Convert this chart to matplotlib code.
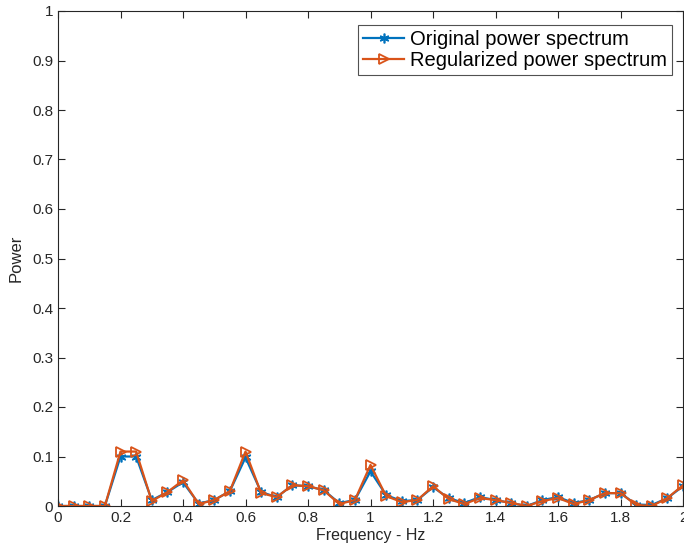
import matplotlib
matplotlib.use("Agg")
import matplotlib.pyplot as plt
import numpy as np

plt.rcParams['font.family'] = ['Liberation Sans', 'DejaVu Sans']

freq = np.arange(41) * 0.05

original = [0.0, 0.0, 0.0, 0.0, 0.100, 0.100, 0.012, 0.028, 0.048, 0.005,
            0.012, 0.030, 0.098, 0.028, 0.018, 0.042, 0.040, 0.032, 0.006, 0.012,
            0.070, 0.022, 0.010, 0.012, 0.038, 0.016, 0.006, 0.018, 0.012, 0.006,
            0.000, 0.012, 0.018, 0.006, 0.012, 0.026, 0.026, 0.003, 0.002, 0.016,
            0.040]
regularized = [0.0, 0.0, 0.0, 0.0, 0.110, 0.110, 0.010, 0.028, 0.052, 0.004,
               0.012, 0.030, 0.110, 0.026, 0.018, 0.042, 0.040, 0.032, 0.004, 0.012,
               0.083, 0.020, 0.008, 0.012, 0.040, 0.014, 0.004, 0.016, 0.012, 0.006,
               0.000, 0.010, 0.016, 0.004, 0.012, 0.026, 0.026, 0.002, 0.000, 0.016,
               0.042]

blue = '#0072BD'
orange = '#D95319'
axcol = '#262626'

fig = plt.figure(figsize=(6.84, 5.48), dpi=100)
ax = fig.add_axes([58 / 684, 42 / 548, 625 / 684, 495 / 548])

ax.plot(freq, original, color=blue, marker=(6, 2, 0), markersize=7, markeredgewidth=1.2,
        linewidth=1.6, label='Original power spectrum')
ax.plot(freq, regularized, color=orange, marker='>', markersize=6.5, markerfacecolor='none',
        markeredgewidth=1.3, linewidth=1.6, label='Regularized power spectrum')

ax.set_xlim(0, 2)
ax.set_ylim(0, 1)
ax.set_xticks(np.arange(0, 2.01, 0.2))
ax.set_xticklabels(['0', '0.2', '0.4', '0.6', '0.8', '1', '1.2', '1.4', '1.6', '1.8', '2'])
ax.set_yticks(np.arange(0, 1.01, 0.1))
ax.set_yticklabels(['0', '0.1', '0.2', '0.3', '0.4', '0.5', '0.6', '0.7', '0.8', '0.9', '1'])
ax.tick_params(direction='in', top=True, right=True, labelsize=11, colors=axcol, length=5, width=0.8)
for s in ax.spines.values():
    s.set_color(axcol)
    s.set_linewidth(0.8)

ax.set_xlabel('Frequency - Hz', fontsize=11.5, color=axcol, labelpad=2)
ax.set_ylabel('Power', fontsize=12, color=axcol, labelpad=6)

leg = ax.legend(loc='upper right', bbox_to_anchor=(0.982, 0.972), fontsize=14.5,
                frameon=True, fancybox=False, handlelength=2.0, handletextpad=0.3,
                borderpad=0.25, labelspacing=0.1, borderaxespad=0)
leg.get_frame().set_edgecolor(axcol)
leg.get_frame().set_linewidth(0.8)

fig.savefig('out.png', dpi=100)
